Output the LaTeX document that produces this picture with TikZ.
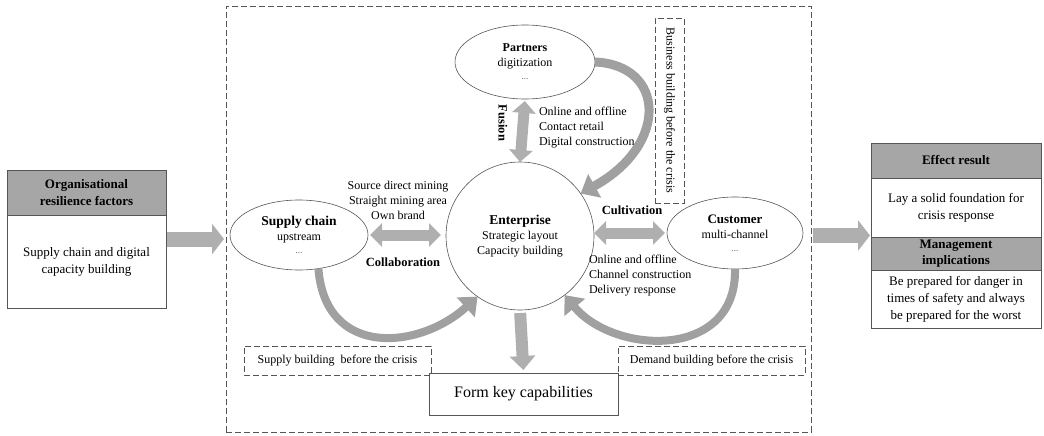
\documentclass[tikz,border=0pt]{standalone}
\usepackage{fontspec}
\setmainfont{Liberation Serif}
\usetikzlibrary{arrows.meta,shapes.geometric,calc}
\definecolor{hdr}{RGB}{166,166,166}
\definecolor{arr}{RGB}{175,175,175}
\definecolor{carr}{RGB}{160,160,160}
\definecolor{edge}{RGB}{85,85,85}
\begin{document}
\begin{tikzpicture}[x=1pt,y=-1pt,
  every node/.style={inner sep=0pt,outer sep=0pt},
  txt/.style={font=\fontsize{12}{15}\selectfont,align=center},
  btxt/.style={font=\bfseries\fontsize{12.5}{15}\selectfont,align=center},
  sidetxt/.style={font=\fontsize{13}{17}\selectfont,align=center},
  sidehdr/.style={font=\bfseries\fontsize{13}{17}\selectfont,align=center,fill=hdr},
  cell/.style={draw=edge,line width=0.6pt,anchor=north west},
  oval/.style={draw=edge,line width=0.6pt,ellipse},
  dashbox/.style={draw=edge,line width=0.9pt,dash pattern=on 6pt off 3pt},
  fat/.style={draw=arr,line width=15pt,-{Triangle[length=12pt,width=30pt]}},
  twoway/.style={draw=arr,line width=11pt,{Triangle[length=12pt,width=23pt]}-{Triangle[length=12pt,width=23pt]}},
  down/.style={draw=arr,line width=12pt,-{Triangle[length=14pt,width=25pt]}},
  curv/.style={draw=carr,line width=8pt,-{Triangle[length=16pt,width=26pt]}},
]
\useasboundingbox (0,0) rectangle (1044,436);

% left panel
\node[cell,sidehdr,minimum width=159pt,minimum height=45pt] (lhead) at (7,170)
  {Organisational\\resilience factors};
\node[cell,sidetxt,minimum width=159pt,minimum height=93pt] (lbody) at (7,215)
  {Supply chain and digital\\capacity building};

% right panel
\node[cell,sidehdr,minimum width=170pt,minimum height=35pt] (rhead1) at (871,143)
  {Effect result};
\node[cell,sidetxt,minimum width=170pt,minimum height=59pt] (rbody1) at (871,178)
  {Lay a solid foundation for\\crisis response};
\node[cell,sidehdr,minimum width=170pt,minimum height=33pt,
  font=\bfseries\fontsize{13}{16}\selectfont] (rhead2) at (871,237)
  {Management\\implications};
\node[cell,sidetxt,minimum width=170pt,minimum height=58pt] (rbody2) at (871,270)
  {Be prepared for danger in\\times of safety and always\\be prepared for the worst};

% dashed frame around the core model
\node[dashbox,minimum width=585pt,minimum height=426pt] (frame) at (518.5,219) {};

% actors
\node[oval,minimum width=140pt,minimum height=74pt,txt] (partners) at (525,62)
  {\textbf{Partners}\\digitization\\[-2pt]{\fontsize{9}{9}\selectfont\color{edge}...}};
\node[oval,minimum width=138pt,minimum height=70pt,txt] (sc) at (299,235)
  {{\bfseries\fontsize{13.5}{15}\selectfont Supply chain}\\upstream\\[-2pt]{\fontsize{9}{9}\selectfont\color{edge}...}};
\node[draw=edge,line width=0.6pt,circle,minimum size=148pt,txt] (ent) at (520,236)
  {{\bfseries\fontsize{13.5}{15}\selectfont Enterprise}\\Strategic layout\\Capacity building};
\node[oval,minimum width=136pt,minimum height=72pt,txt] (cust) at (735,233)
  {{\bfseries\fontsize{13}{15}\selectfont Customer}\\multi-channel\\[-2pt]{\fontsize{9}{9}\selectfont\color{edge}...}};

% labels of the links
\node[btxt,rotate=-90] (fusion) at (503,123) {Fusion};
\node[txt,align=left,anchor=west] (ptxt) at (539,128)
  {Online and offline\\Contact retail\\Digital construction};
\node[txt] (stxt) at (398,200) {Source direct mining\\Straight mining area\\Own brand};
\node[btxt] (collab) at (403,262) {Collaboration};
\node[btxt] (cultiv) at (632,210) {Cultivation};
\node[txt,align=left,anchor=west] (ctxt) at (589,276)
  {Online and offline\\Channel construction\\Delivery response};

% dashed notes
\node[dashbox,minimum width=29pt,minimum height=185pt] (bnote) at (669.5,110.5) {};
\node[txt,rotate=-90] (btext) at (bnote.center) {Business building before the crisis};
\node[dashbox,minimum width=187pt,minimum height=29pt,txt] (snote) at (337.5,360.5)
  {Supply building\ \ before the crisis};
\node[dashbox,minimum width=187pt,minimum height=29pt,txt] (dnote) at (711.5,360.5)
  {Demand building before the crisis};

% outcome
\node[draw=edge,line width=0.6pt,fill=white,minimum width=189pt,minimum height=42pt,
  font=\fontsize{16}{18}\selectfont] (form) at (523.5,394) {Form key capabilities};

% straight connectors
\coordinate (lmid) at ($(lhead.north east)!0.5!(lbody.south east)$);
\coordinate (rmid) at ($(rhead1.north west)!0.5!(rbody2.south west)$);
\draw[fat,shorten <=1pt,shorten >=2pt] (lmid) -- (lmid -| frame.west);
\draw[fat,shorten <=2pt,shorten >=1pt] (rmid -| frame.east) -- (rmid);
\draw[twoway,shorten <=2pt] (partners.south) -- (ent.north);
\draw[twoway,shorten <=2pt,shorten >=5pt] (sc.east) -- (sc.east -| ent.west);
\draw[twoway,shorten >=2pt] (cust.west -| ent.east) -- (cust.west);
\draw[down,shorten <=3pt,shorten >=3pt] (ent.south) -- (form.north);

% curved feedback connectors
\draw[curv,line width=9pt] (partners.east) .. controls +(70,3) and +(89,-49) .. (ent.35);
\draw[curv] (sc.-60) .. controls +(7,90) and +(-58,53) .. (ent.235);
\draw[curv] (cust.south) .. controls +(2,91) and +(50,60) .. (ent.-53);
\end{tikzpicture}
\end{document}
